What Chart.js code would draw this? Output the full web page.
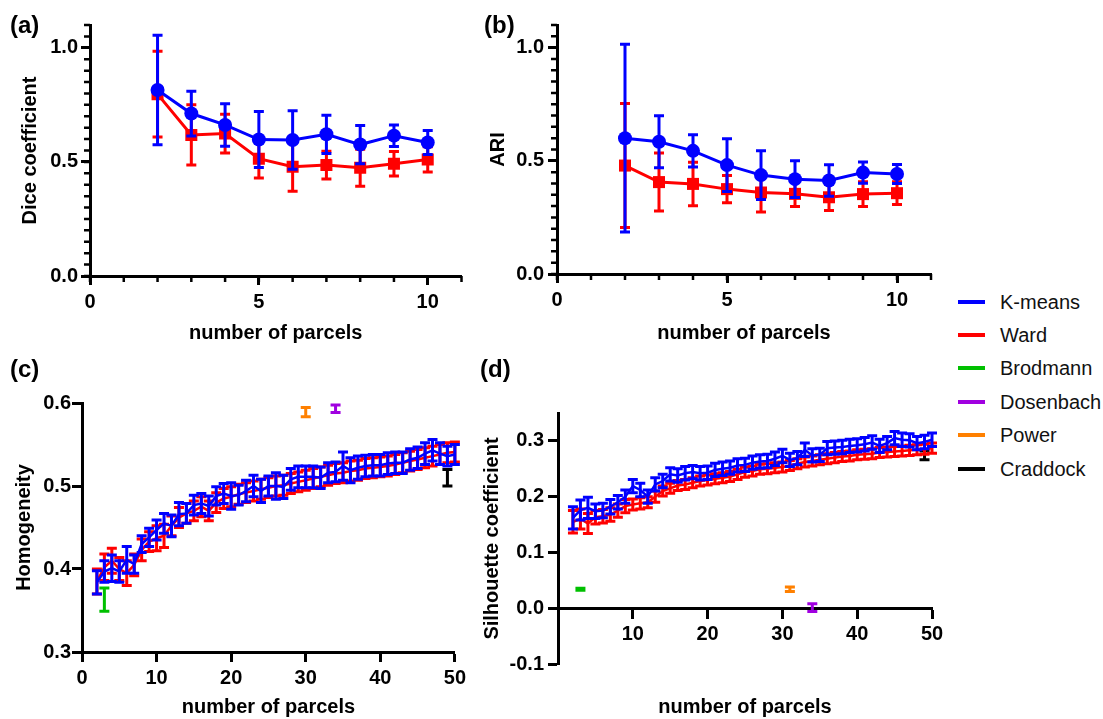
<!DOCTYPE html>
<html>
<head>
<meta charset="utf-8">
<script src="https://cdn.jsdelivr.net/npm/chart.js@4.4.0/dist/chart.umd.min.js"></script>
<style>
  body { margin: 0; background: #fff; }
  #page { position: relative; width: 1103px; height: 719px; overflow: hidden; background: #fff;
          font-family: 'Liberation Sans', Arial, sans-serif; }
  canvas { position: absolute; }
  .panel-label { position: absolute; font-weight: bold; font-size: 24px; line-height: 24px; color: #000; }
  .leg-row { position: absolute; left: 958px; height: 24px; }
  .leg-swatch { position: absolute; left: 0; top: 10px; width: 27px; height: 4px; }
  .leg-text { position: absolute; left: 42px; top: 0; font-size: 20px; line-height: 24px; color: #111; white-space: nowrap; }
</style>
</head>
<body>
<div id="page">
  <canvas id="chartA" width="470" height="350" style="left:0;top:0"></canvas>
  <canvas id="chartB" width="460" height="350" style="left:480px;top:0"></canvas>
  <canvas id="chartC" width="470" height="369" style="left:0;top:350px"></canvas>
  <canvas id="chartD" width="470" height="369" style="left:480px;top:350px"></canvas>
  <div class="panel-label" style="left:10px;top:13px">(a)</div>
  <div class="panel-label" style="left:484px;top:13px">(b)</div>
  <div class="panel-label" style="left:10px;top:357px">(c)</div>
  <div class="panel-label" style="left:480px;top:357px">(d)</div>
  <div id="legend"></div>
</div>
<script>
// --- data: panels (a) and (b), 2..10 parcels ---
const parcelsAB = [2, 3, 4, 5, 6, 7, 8, 9, 10];
const diceKmeans   = [0.815, 0.712, 0.662, 0.598, 0.596, 0.621, 0.576, 0.615, 0.585];
const diceKmeansSD = [0.240, 0.098, 0.093, 0.123, 0.128, 0.084, 0.084, 0.047, 0.053];
const diceWard     = [0.797, 0.618, 0.624, 0.514, 0.479, 0.486, 0.474, 0.492, 0.511];
const diceWardSD   = [0.188, 0.132, 0.085, 0.084, 0.108, 0.061, 0.081, 0.054, 0.055];
const ariKmeans    = [0.600, 0.584, 0.544, 0.481, 0.437, 0.419, 0.413, 0.448, 0.442];
const ariKmeansSD  = [0.415, 0.115, 0.071, 0.117, 0.108, 0.081, 0.070, 0.047, 0.042];
const ariWard      = [0.479, 0.406, 0.398, 0.375, 0.360, 0.354, 0.339, 0.353, 0.357];
const ariWardSD    = [0.274, 0.128, 0.096, 0.060, 0.086, 0.056, 0.059, 0.055, 0.050];

// --- data: panels (c) and (d), 2..50 parcels ---
const parcelsCD = [2, 3, 4, 5, 6, 7, 8, 9, 10, 11, 12, 13, 14, 15, 16, 17, 18, 19, 20, 21,
  22, 23, 24, 25, 26, 27, 28, 29, 30, 31, 32, 33, 34, 35, 36, 37, 38, 39, 40, 41,
  42, 43, 44, 45, 46, 47, 48, 49, 50];
const homKmeans = [0.384, 0.397, 0.401, 0.397, 0.411, 0.406, 0.430, 0.438, 0.447, 0.455,
  0.452, 0.466, 0.467, 0.477, 0.479, 0.476, 0.488, 0.491, 0.488, 0.489,
  0.494, 0.500, 0.494, 0.500, 0.500, 0.499, 0.508, 0.511, 0.511, 0.511,
  0.510, 0.516, 0.517, 0.524, 0.519, 0.522, 0.524, 0.525, 0.525, 0.527,
  0.528, 0.528, 0.532, 0.534, 0.539, 0.543, 0.539, 0.536, 0.538];
const homKmeansSD = [0.014, 0.013, 0.016, 0.013, 0.016, 0.011, 0.010, 0.011, 0.012, 0.012,
  0.013, 0.014, 0.012, 0.012, 0.012, 0.012, 0.011, 0.012, 0.016, 0.012,
  0.013, 0.013, 0.014, 0.012, 0.016, 0.014, 0.013, 0.013, 0.013, 0.013,
  0.013, 0.012, 0.012, 0.017, 0.015, 0.014, 0.013, 0.013, 0.013, 0.013,
  0.013, 0.013, 0.013, 0.013, 0.013, 0.013, 0.013, 0.012, 0.012];
const homWard = [0.385, 0.402, 0.410, 0.400, 0.395, 0.405, 0.423, 0.433, 0.437, 0.440,
  0.452, 0.462, 0.467, 0.470, 0.475, 0.470, 0.480, 0.485, 0.487, 0.490,
  0.492, 0.494, 0.496, 0.498, 0.500, 0.501, 0.503, 0.505, 0.507, 0.509,
  0.511, 0.513, 0.515, 0.516, 0.518, 0.519, 0.521, 0.522, 0.523, 0.524,
  0.526, 0.528, 0.530, 0.532, 0.534, 0.536, 0.538, 0.540, 0.541];
const homWardSD = [0.015, 0.016, 0.015, 0.014, 0.015, 0.013, 0.013, 0.012, 0.015, 0.014,
  0.012, 0.012, 0.012, 0.012, 0.012, 0.012, 0.012, 0.012, 0.012, 0.012,
  0.012, 0.012, 0.012, 0.012, 0.012, 0.012, 0.012, 0.012, 0.012, 0.012,
  0.012, 0.012, 0.012, 0.012, 0.012, 0.012, 0.012, 0.012, 0.012, 0.012,
  0.012, 0.012, 0.012, 0.012, 0.012, 0.012, 0.012, 0.012, 0.012];
const silKmeans = [0.162, 0.176, 0.180, 0.174, 0.175, 0.182, 0.190, 0.200, 0.219, 0.212,
  0.200, 0.222, 0.228, 0.240, 0.238, 0.242, 0.244, 0.242, 0.243, 0.248,
  0.250, 0.252, 0.256, 0.257, 0.261, 0.263, 0.264, 0.268, 0.273, 0.266,
  0.269, 0.284, 0.274, 0.275, 0.287, 0.288, 0.289, 0.291, 0.292, 0.294,
  0.297, 0.291, 0.296, 0.305, 0.302, 0.301, 0.296, 0.298, 0.302];
const silKmeansSD = [0.020, 0.018, 0.019, 0.013, 0.013, 0.013, 0.012, 0.012, 0.012, 0.012,
  0.012, 0.012, 0.012, 0.012, 0.012, 0.012, 0.012, 0.012, 0.012, 0.012,
  0.012, 0.012, 0.012, 0.012, 0.012, 0.012, 0.012, 0.012, 0.012, 0.012,
  0.012, 0.012, 0.012, 0.012, 0.012, 0.012, 0.012, 0.012, 0.012, 0.012,
  0.012, 0.012, 0.012, 0.012, 0.012, 0.012, 0.012, 0.012, 0.012];
const silWard = [0.155, 0.160, 0.152, 0.163, 0.165, 0.168, 0.175, 0.183, 0.186, 0.188,
  0.190, 0.200, 0.210, 0.215, 0.220, 0.222, 0.225, 0.228, 0.230, 0.232,
  0.234, 0.236, 0.240, 0.244, 0.246, 0.249, 0.250, 0.252, 0.253, 0.256,
  0.259, 0.262, 0.264, 0.266, 0.268, 0.270, 0.272, 0.273, 0.275, 0.276,
  0.277, 0.279, 0.280, 0.281, 0.282, 0.283, 0.284, 0.285, 0.287];
const silWardSD = [0.020, 0.018, 0.018, 0.012, 0.012, 0.012, 0.012, 0.012, 0.010, 0.010,
  0.010, 0.010, 0.009, 0.009, 0.009, 0.009, 0.009, 0.009, 0.009, 0.009,
  0.009, 0.009, 0.009, 0.009, 0.009, 0.009, 0.009, 0.009, 0.009, 0.009,
  0.009, 0.009, 0.009, 0.009, 0.009, 0.009, 0.009, 0.009, 0.009, 0.009,
  0.009, 0.009, 0.009, 0.009, 0.009, 0.009, 0.009, 0.009, 0.009];

// reference parcellations: number of parcels, value, sd
const atlasNames   = ['Brodmann', 'Dosenbach', 'Power', 'Craddock'];
const atlasParcels = [3, 34, 30, 49];
const atlasParcelsSil = [3, 34, 31, 49];
const atlasHom     = [0.363, 0.593, 0.589, 0.510];
const atlasHomSD   = [0.014, 0.0045, 0.0055, 0.010];
const atlasSil     = [0.034, 0.001, 0.034, 0.274];
const atlasSilSD   = [0.002, 0.007, 0.004, 0.008];

// tick labels
const xTicksAB = [0, 5, 10];
const yTicksAB = [0, 0.5, 1.0];
const xTicksC = [0, 10, 20, 30, 40, 50];
const yTicksC = [0.3, 0.4, 0.5, 0.6];
const xTicksD = [10, 20, 30, 40, 50];
const yTicksD = [-0.1, 0, 0.1, 0.2, 0.3];

const legendNames = ['K-means', 'Ward', 'Brodmann', 'Dosenbach', 'Power', 'Craddock'];

// --- styles ---
const COLORS = {
  'K-means': '#0000ff', 'Ward': '#ff0000', 'Brodmann': '#00c000',
  'Dosenbach': '#a000e0', 'Power': '#ff8000', 'Craddock': '#000000'
};
const FONT = "'Liberation Sans', Arial, sans-serif";
Chart.defaults.font.family = FONT;
Chart.defaults.color = '#000';

// error bars drawn under each dataset, through its y scale
const errorBars = {
  id: 'errorBars',
  beforeDatasetDraw(chart, args, opts) {
    const ds = chart.data.datasets[args.index];
    if (!ds.errors) return;
    const meta = args.meta;
    const ys = chart.scales[meta.yAxisID];
    const ctx = chart.ctx;
    ctx.save();
    ctx.strokeStyle = ds.borderColor;
    ctx.lineWidth = opts.width;
    meta.data.forEach((pt, i) => {
      const v = ds.data[i].y, e = ds.errors[i];
      const top = ys.getPixelForValue(v + e), bot = ys.getPixelForValue(v - e);
      ctx.beginPath();
      ctx.moveTo(pt.x, top); ctx.lineTo(pt.x, bot);
      ctx.moveTo(pt.x - opts.cap, top); ctx.lineTo(pt.x + opts.cap, top);
      ctx.moveTo(pt.x - opts.cap, bot); ctx.lineTo(pt.x + opts.cap, bot);
      ctx.stroke();
    });
    ctx.restore();
  }
};

// small unlabelled ticks between the labelled ones (panels a, b)
const minorTicks = {
  id: 'minorTicks',
  afterDraw(chart, args, opts) {
    const ctx = chart.ctx;
    const xs = chart.scales.x, ys = chart.scales.y;
    ctx.save();
    ctx.strokeStyle = '#000';
    ctx.lineWidth = opts.width;
    ctx.beginPath();
    const nx = Math.round((xs.max - xs.min) / opts.xStep);
    for (let k = 0; k <= nx; k++) {
      const px = xs.getPixelForValue(xs.min + k * opts.xStep);
      ctx.moveTo(px, ys.bottom); ctx.lineTo(px, ys.bottom + opts.len);
    }
    const ny = Math.round((ys.max - ys.min) / opts.yStep);
    for (let k = 0; k <= ny; k++) {
      const py = ys.getPixelForValue(ys.min + k * opts.yStep);
      ctx.moveTo(xs.left, py); ctx.lineTo(xs.left - opts.len, py);
    }
    ctx.stroke();
    ctx.restore();
  }
};

function pts(xs, ys) { return xs.map((x, i) => ({ x: x, y: ys[i] })); }

function methodSet(name, xs, ys, sd, marker) {
  const c = COLORS[name];
  return {
    label: name, data: pts(xs, ys), errors: sd, xAxisID: 'x', yAxisID: 'y',
    borderColor: c, backgroundColor: c, borderWidth: marker ? 3 : 2.5,
    pointStyle: marker || 'circle', pointRadius: marker === 'rect' ? 8.5 : (marker ? 7 : 0),
    pointBorderWidth: 0, pointBackgroundColor: c, tension: 0, fill: false
  };
}

function atlasSet(i, xs, ys, sd) {
  const c = COLORS[atlasNames[i]];
  return {
    label: atlasNames[i], data: [{ x: xs[i], y: ys[i] }], errors: [sd[i]],
    xAxisID: 'x', yAxisID: 'y', borderColor: c, backgroundColor: c,
    showLine: false, pointRadius: 0
  };
}

const tickFont = { size: 20, weight: 'bold' };
const titleFont = { size: 20, weight: 'bold' };

function axis(o) {
  return {
    type: 'linear', min: o.min, max: o.max,
    position: o.position,
    afterBuildTicks: s => { s.ticks = o.ticks.map(v => ({ value: v })); },
    afterFit: s => { if (o.width) s.width = o.width; if (o.height) s.height = o.height; },
    grid: { display: true, drawOnChartArea: false, drawTicks: true, tickLength: o.tl,
            tickWidth: 3, tickColor: '#000' },
    border: { display: true, color: '#000', width: 3 },
    ticks: { font: tickFont, color: '#000', padding: o.pad, autoSkip: false, maxRotation: 0,
             callback: o.fmt },
    title: { display: !!o.title, text: o.title, font: titleFont, color: '#000',
             padding: o.titlePad }
  };
}

function baseOptions(padding, scales, extraPlugins) {
  return {
    responsive: false, animation: false, devicePixelRatio: 1,
    layout: { padding: padding },
    plugins: Object.assign({ legend: { display: false }, tooltip: { enabled: false },
                             errorBars: { width: 3, cap: 5 } }, extraPlugins),
    scales: scales
  };
}

const fmtInt = v => String(v);
const fmt1 = v => Number(v).toFixed(1);

// (a) Dice coefficient
new Chart(document.getElementById('chartA'), {
  type: 'line',
  data: { datasets: [
    methodSet('K-means', parcelsAB, diceKmeans, diceKmeansSD, 'circle'),
    methodSet('Ward', parcelsAB, diceWard, diceWardSD, 'rect')
  ] },
  options: baseOptions({ left: 0, right: 6, top: 25, bottom: 0 }, {
    x: axis({ min: 0, max: 11, ticks: xTicksAB, height: 74, tl: 9, pad: 5, fmt: fmtInt,
              title: 'number of parcels', titlePad: { top: 0, bottom: 5 } }),
    y: axis({ min: 0, max: 1.1, ticks: yTicksAB, width: 90, tl: 9, pad: 3, fmt: fmt1,
              title: 'Dice coefficient', titlePad: { top: 18, bottom: 0 } })
  }, { minorTicks: { xStep: 1, yStep: 0.05, len: 6, width: 2.5 } }),
  plugins: [errorBars, minorTicks]
});

// (b) ARI
new Chart(document.getElementById('chartB'), {
  type: 'line',
  data: { datasets: [
    methodSet('K-means', parcelsAB, ariKmeans, ariKmeansSD, 'circle'),
    methodSet('Ward', parcelsAB, ariWard, ariWardSD, 'rect')
  ] },
  options: baseOptions({ left: 0, right: 9, top: 25, bottom: 0 }, {
    x: axis({ min: 0, max: 11, ticks: xTicksAB, height: 76, tl: 9, pad: 5, fmt: fmtInt,
              title: 'number of parcels', titlePad: { top: 0, bottom: 5 } }),
    y: axis({ min: 0, max: 1.1, ticks: yTicksAB, width: 77, tl: 9, pad: 4, fmt: fmt1,
              title: 'ARI', titlePad: { top: 6, bottom: 0 } })
  }, { minorTicks: { xStep: 1, yStep: 0.05, len: 6, width: 2.5 } }),
  plugins: [errorBars, minorTicks]
});

// (c) Homogeneity
new Chart(document.getElementById('chartC'), {
  type: 'line',
  data: { datasets: [
    methodSet('K-means', parcelsCD, homKmeans, homKmeansSD),
    methodSet('Ward', parcelsCD, homWard, homWardSD),
    atlasSet(0, atlasParcels, atlasHom, atlasHomSD),
    atlasSet(1, atlasParcels, atlasHom, atlasHomSD),
    atlasSet(2, atlasParcels, atlasHom, atlasHomSD),
    atlasSet(3, atlasParcels, atlasHom, atlasHomSD)
  ] },
  options: baseOptions({ left: 0, right: 13, top: 53, bottom: 0 }, {
    x: axis({ min: 0, max: 50, ticks: xTicksC, height: 67, tl: 10, pad: 4, fmt: fmtInt,
              title: 'number of parcels', titlePad: { top: 0, bottom: 0 } }),
    y: axis({ min: 0.3, max: 0.6, ticks: yTicksC, width: 82, tl: 10, pad: 1, fmt: fmt1,
              title: 'Homogeneity', titlePad: { top: 12, bottom: 0 } })
  }, { errorBars: { width: 3, cap: 5 } }),
  plugins: [errorBars]
});

// (d) Silhouette coefficient, x axis crossing at 0
const xTitleD = {
  type: 'linear', position: 'bottom', display: true,
  afterFit: s => { s.height = 55; },
  grid: { display: false }, border: { display: false }, ticks: { display: false },
  title: { display: true, text: 'number of parcels', font: titleFont, color: '#000',
           padding: { top: 0, bottom: 0 } }
};
new Chart(document.getElementById('chartD'), {
  type: 'line',
  data: { datasets: [
    methodSet('K-means', parcelsCD, silKmeans, silKmeansSD),
    methodSet('Ward', parcelsCD, silWard, silWardSD),
    atlasSet(0, atlasParcelsSil, atlasSil, atlasSilSD),
    atlasSet(1, atlasParcelsSil, atlasSil, atlasSilSD),
    atlasSet(2, atlasParcelsSil, atlasSil, atlasSilSD),
    atlasSet(3, atlasParcelsSil, atlasSil, atlasSilSD)
  ] },
  options: baseOptions({ left: 0, right: 18, top: 63, bottom: 0 }, {
    x: axis({ min: 0, max: 50, ticks: xTicksD, position: { y: 0 }, tl: 9, pad: 5, fmt: fmtInt }),
    x2: xTitleD,
    y: axis({ min: -0.1, max: 0.35, ticks: yTicksD, width: 78, tl: 10, pad: 4, fmt: fmt1,
              title: 'Silhouette coefficient', titlePad: { top: 0, bottom: 0 } })
  }, { errorBars: { width: 3, cap: 5 } }),
  plugins: [errorBars]
});

// shared legend
const legend = document.getElementById('legend');
const legendTops = [290, 323, 356, 390, 423, 457];
legendNames.forEach((name, i) => {
  const row = document.createElement('div');
  row.className = 'leg-row';
  row.style.top = legendTops[i] + 'px';
  row.innerHTML = '<div class="leg-swatch" style="background:' + COLORS[name] + '"></div>' +
                  '<div class="leg-text">' + name + '</div>';
  legend.appendChild(row);
});
</script>
</body>
</html>
